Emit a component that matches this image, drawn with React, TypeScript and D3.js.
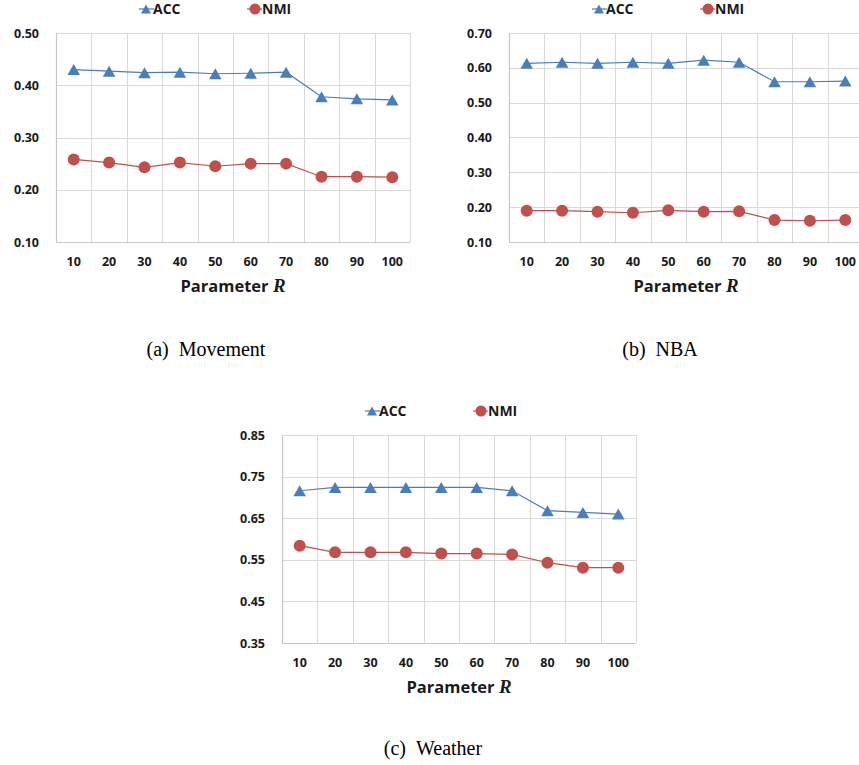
import React from "react";
import * as d3 from "d3";

const xCats = ["10", "20", "30", "40", "50", "60", "70", "80", "90", "100"];

const accMovement = [0.43, 0.427, 0.424, 0.425, 0.422, 0.423, 0.425, 0.378, 0.374, 0.372];
const nmiMovement = [0.258, 0.252, 0.243, 0.252, 0.245, 0.25, 0.25, 0.225, 0.225, 0.224];
const ticksMovement = [0.1, 0.2, 0.3, 0.4, 0.5];

const accNBA = [0.613, 0.616, 0.613, 0.616, 0.613, 0.622, 0.616, 0.56, 0.56, 0.562];
const nmiNBA = [0.19, 0.19, 0.187, 0.184, 0.191, 0.187, 0.188, 0.163, 0.161, 0.163];
const ticksNBA = [0.1, 0.2, 0.3, 0.4, 0.5, 0.6, 0.7];

const accWeather = [0.716, 0.724, 0.724, 0.724, 0.724, 0.724, 0.716, 0.668, 0.664, 0.66];
const nmiWeather = [0.584, 0.568, 0.568, 0.568, 0.565, 0.565, 0.563, 0.543, 0.531, 0.531];
const ticksWeather = [0.35, 0.45, 0.55, 0.65, 0.75, 0.85];

const seriesNames = ["ACC", "NMI"];
const captions = ["(a)\u00a0\u00a0Movement", "(b)\u00a0\u00a0NBA", "(c)\u00a0\u00a0Weather"];

const BLUE = "#4a7ebb";
const RED = "#c0504d";
const GRID = "#d9d9d9";
const AXIS = "#c6c6c6";
const TXT = "#1a1a1a";
const SANS = "'Open Sans', Lato, sans-serif";
const SERIF = "'Liberation Serif', 'Times New Roman', serif";

function tri(w: number, h: number) {
  return `M0,${-h / 2}L${w / 2},${h / 2}L${-w / 2},${h / 2}Z`;
}

type PanelProps = {
  left: number;
  top: number;
  width: number;
  height: number;
  ticks: number[];
  acc: number[];
  nmi: number[];
};

function Panel({ left, top, width, height, ticks, acc, nmi }: PanelProps) {
  const x = d3.scaleBand<string>().domain(xCats).range([0, width]);
  const y = d3
    .scaleLinear()
    .domain([ticks[0], ticks[ticks.length - 1]])
    .range([height, 0]);
  const cx = (i: number) => (x(xCats[i]) as number) + x.bandwidth() / 2;
  const line = d3
    .line<number>()
    .x((_, i) => cx(i))
    .y((d) => y(d));
  const fmt = d3.format(".2f");
  const bounds = d3.range(xCats.length + 1).map((i) => i * x.step());
  return (
    <g transform={`translate(${left},${top})`}>
      {ticks.map((t) => (
        <line
          key={"h" + t}
          x1={0}
          x2={width}
          y1={Math.round(y(t)) + 0.5}
          y2={Math.round(y(t)) + 0.5}
          stroke={GRID}
          strokeWidth={1}
        />
      ))}
      {bounds.map((b, i) => (
        <line
          key={"v" + i}
          x1={Math.round(b) + 0.5}
          x2={Math.round(b) + 0.5}
          y1={0}
          y2={height}
          stroke={GRID}
          strokeWidth={1}
        />
      ))}
      <line x1={0.5} x2={0.5} y1={0} y2={height} stroke={AXIS} strokeWidth={1.2} />
      <line x1={0} x2={width} y1={Math.round(height) + 0.5} y2={Math.round(height) + 0.5} stroke={AXIS} strokeWidth={1.2} />
      {ticks.map((t) => (
        <text
          key={"yl" + t}
          x={-17}
          y={y(t)}
          dy="0.36em"
          textAnchor="end"
          fontFamily={SANS}
          fontWeight={700}
          fontSize={12.5}
          fill={TXT}
        >
          {fmt(t)}
        </text>
      ))}
      {xCats.map((c, i) => (
        <text
          key={"xl" + c}
          x={cx(i)}
          y={height + 19}
          dy="0.36em"
          textAnchor="middle"
          fontFamily={SANS}
          fontWeight={700}
          fontSize={12.5}
          fill={TXT}
        >
          {c}
        </text>
      ))}
      <text
        x={width / 2}
        y={height + 50}
        textAnchor="middle"
        fontFamily={SANS}
        fontWeight={700}
        fontSize={16.5}
        fill={TXT}
      >
        {"Parameter "}
        <tspan fontFamily={SERIF} fontStyle="italic" fontWeight={700} fontSize={19}>
          R
        </tspan>
      </text>
      <path d={line(acc) || ""} fill="none" stroke={BLUE} strokeWidth={1.2} />
      <path d={line(nmi) || ""} fill="none" stroke={RED} strokeWidth={1.2} />
      {acc.map((v, i) => (
        <path key={"a" + i} d={tri(12.5, 11)} transform={`translate(${cx(i)},${y(v)})`} fill={BLUE} />
      ))}
      {nmi.map((v, i) => (
        <circle key={"n" + i} cx={cx(i)} cy={y(v)} r={6} fill={RED} />
      ))}
      <g transform={`translate(0,-24)`}>
        <line x1={83} x2={98} y1={0} y2={0} stroke={BLUE} strokeWidth={1.2} />
        <path d={tri(10, 9)} transform="translate(90,0)" fill={BLUE} />
        <text x={97} y={0} dy="0.36em" fontFamily={SANS} fontWeight={700} fontSize={14} fill={TXT}>
          {seriesNames[0]}
        </text>
        <line x1={191} x2={206} y1={0} y2={0} stroke={RED} strokeWidth={1.2} />
        <circle cx={199} cy={0} r={5.5} fill={RED} />
        <text x={206} y={0} dy="0.36em" fontFamily={SANS} fontWeight={700} fontSize={14} fill={TXT}>
          {seriesNames[1]}
        </text>
      </g>
    </g>
  );
}

export default function App() {
  return (
    <div style={{ position: "absolute", left: 0, top: 0, width: 859, height: 765, background: "#fff" }}>
      <svg width={859} height={765} viewBox="0 0 859 765" style={{ display: "block" }}>
        <rect width={859} height={765} fill="#fff" />
        <Panel left={56} top={33} width={354} height={209} ticks={ticksMovement} acc={accMovement} nmi={nmiMovement} />
        <Panel left={509} top={33} width={354} height={209} ticks={ticksNBA} acc={accNBA} nmi={nmiNBA} />
        <Panel left={282} top={435} width={354} height={208} ticks={ticksWeather} acc={accWeather} nmi={nmiWeather} />
        <text x={206} y={356} textAnchor="middle" fontFamily={SERIF} fontSize={20} fill="#000">
          {captions[0]}
        </text>
        <text x={660} y={356} textAnchor="middle" fontFamily={SERIF} fontSize={20} fill="#000">
          {captions[1]}
        </text>
        <text x={433} y={755} textAnchor="middle" fontFamily={SERIF} fontSize={20} fill="#000">
          {captions[2]}
        </text>
      </svg>
    </div>
  );
}
